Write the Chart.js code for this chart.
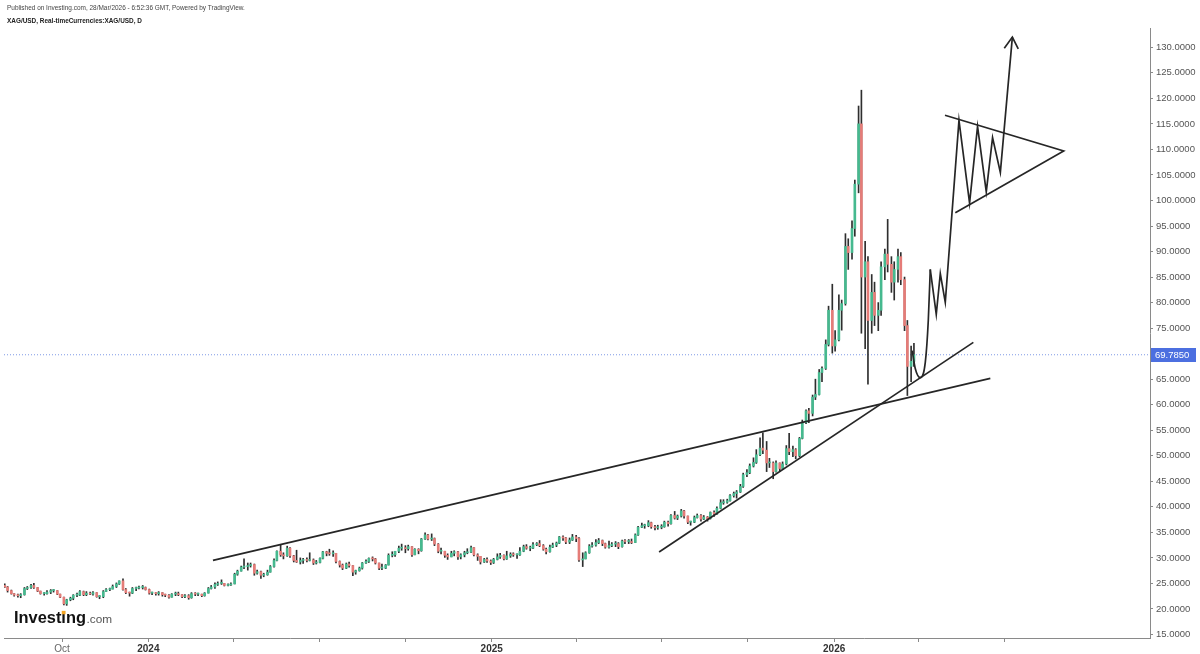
<!DOCTYPE html>
<html>
<head>
<meta charset="utf-8">
<title>XAG/USD</title>
<script src="https://cdn.jsdelivr.net/npm/chart.js@4.4.1/dist/chart.umd.min.js"></script>
<style>
html,body{margin:0;padding:0;background:#ffffff;overflow:hidden;}
canvas{display:block;}
</style>
</head>
<body>
<canvas id="chart" width="1200" height="654"></canvas>
<script>
// ---------------- data ----------------
// x values are calendar days counted from 1 Oct 2023 (day 0)
const firstWeekStart = -62;      // Monday 31 Jul 2023
const candleOffsets = [1, 4];    // two candles per week: Mon-Wed and Thu-Fri
const firstOpen = 24.6;

const closes = [
 24.3,23.6, 23.0,22.7, 22.6,22.8, 24.0,24.2, 24.6,24.2, 23.5,23.0, 23.0,23.3, 23.6,23.6,
 22.9,22.3, 21.0,21.8, 22.1,22.7, 22.7,23.4, 22.8,23.1, 22.9,23.2, 22.4,22.4, 23.4,23.8,
 23.9,24.4, 24.9,25.5, 23.8,23.2, 23.1,24.0, 24.1,24.2, 24.2,23.8, 23.1,23.1, 23.0,23.2,
 22.8,22.7, 22.3,22.9, 23.0,22.8, 22.4,22.6, 22.2,23.0, 22.9,22.9, 22.6,23.1, 24.0,24.3,
 24.8,25.0, 25.0,24.6, 24.7,24.9, 26.8,27.4, 28.2,28.3, 28.5,28.7, 27.0,27.3, 26.6,26.7,
 27.2,28.3, 29.5,31.3, 30.6,30.4, 31.9,30.4, 29.5,29.2, 29.5,29.6, 29.5,29.6, 29.0,29.1,
 29.9,31.2, 30.9,30.8, 30.9,29.3, 28.6,28.0, 28.8,28.5, 27.2,27.5, 28.0,29.0, 29.3,29.9,
 29.8,29.0, 28.0,28.0, 28.6,30.5, 30.6,31.3, 31.9,32.0, 31.8,32.2, 30.6,31.7, 31.4,33.7,
 34.5,33.7, 33.8,32.7, 31.3,31.3, 30.5,30.2, 30.9,31.2, 30.2,30.6, 31.0,31.1, 32.0,30.6,
 30.3,29.2, 29.7,29.4, 29.1,29.7, 30.2,30.5, 29.8,30.4, 30.7,30.6, 30.6,31.3, 32.2,31.9,
 31.9,32.6, 32.8,32.4, 31.7,31.2, 32.1,32.5, 32.9,34.1, 33.9,33.1, 33.5,34.1, 33.8,29.6,
 29.8,31.0, 32.3,32.5, 33.0,33.4, 32.8,32.1, 32.4,32.7, 32.8,32.2, 33.3,33.2, 33.2,33.0,
 34.5,36.0, 36.3,36.3, 36.9,36.1, 35.9,36.0, 36.1,37.0, 36.7,38.3, 37.8,38.2, 39.2,38.2,
 37.0,37.0, 37.9,38.3, 37.6,38.0, 37.7,38.9, 38.6,39.7, 40.8,40.9, 41.2,42.2, 42.6,42.9,
 44.0,46.3, 46.7,48.0, 48.7,50.2, 51.5,51.1, 48.6,48.6, 46.9,48.6, 47.5,48.4, 51.4,50.8,
 51.2,50.0, 53.4,56.5, 58.8,58.3, 61.5,62.0, 66.3,67.1, 71.8,78.5, 71.5,72.7, 78.5,79.8,
 91.0,89.8, 94.5,103.2, 115.0,85.0, 88.0,76.5, 82.0,77.5, 78.5,87.0, 89.5,87.5, 84.0,86.5,
 89.0,84.5, 75.5,67.5, 68.5,69.785
];
const highs = [
 24.9,24.4, 23.7,23.0, 22.9,23.0, 24.2,24.4, 24.8,25.0, 24.2,23.5, 23.2,23.6, 23.8,23.8,
 23.6,22.9, 22.3,21.9, 22.3,22.8, 23.1,23.6, 23.5,23.4, 23.3,23.4, 23.2,22.6, 23.6,24.0,
 24.1,24.7, 25.1,25.5, 25.9,24.0, 23.3,24.2, 24.3,24.5, 24.6,24.3, 23.9,23.3, 23.2,23.4,
 23.2,22.9, 22.8,23.0, 23.3,23.3, 22.8,22.8, 22.8,23.2, 23.2,23.1, 22.9,23.2, 24.2,24.6,
 25.1,25.3, 25.7,25.0, 24.9,25.1, 27.0,27.6, 28.4,29.8, 29.0,29.0, 28.8,27.6, 27.4,27.0,
 27.6,28.5, 29.8,31.4, 32.5,31.0, 32.3,32.0, 30.5,31.5, 30.0,29.9, 30.0,31.0, 29.8,29.5,
 30.0,31.3, 31.3,31.7, 31.4,30.9, 29.4,28.8, 29.0,29.2, 28.5,27.6, 28.2,29.1, 29.6,30.0,
 30.2,29.9, 29.0,28.8, 28.7,30.8, 31.2,31.3, 32.3,32.7, 32.4,32.5, 32.2,31.8, 31.8,33.8,
 34.9,34.6, 34.7,33.9, 32.8,31.9, 31.3,30.8, 31.3,31.4, 31.3,30.8, 31.3,31.8, 32.3,32.0,
 30.8,30.3, 29.9,30.0, 29.6,29.9, 30.8,30.9, 30.6,31.3, 31.0,31.0, 30.8,32.0, 32.5,32.6,
 32.3,33.0, 33.0,33.4, 32.6,31.9, 32.5,32.9, 33.1,34.2, 34.3,34.0, 33.9,34.6, 34.4,34.0,
 31.0,31.2, 32.6,33.0, 33.6,33.8, 33.5,32.9, 33.3,33.0, 33.2,33.0, 33.5,33.6, 33.6,33.7,
 34.7,36.2, 36.8,36.6, 37.3,37.0, 36.4,36.4, 36.5,37.2, 37.2,38.5, 39.1,38.4, 39.5,39.3,
 38.2,37.2, 38.2,38.6, 38.5,38.3, 38.1,39.0, 39.2,40.0, 41.4,41.4, 41.5,42.4, 42.9,43.2,
 44.4,46.6, 47.3,48.4, 49.6,51.2, 53.5,54.5, 52.8,49.5, 48.8,49.0, 48.6,48.8, 52.0,54.4,
 51.9,51.4, 53.6,57.0, 59.0,59.3, 61.9,65.0, 66.9,67.4, 72.7,79.3, 83.6,74.5, 81.5,80.5,
 93.5,92.5, 96.0,104.0, 118.5,121.6, 92.0,89.0, 85.5,84.0, 80.0,88.0, 90.5,96.3, 89.0,88.0,
 90.5,89.8, 85.0,76.5, 71.5,72.0
];
const lows = [
 24.2,23.3, 22.9,22.5, 22.3,22.2, 22.7,23.8, 24.0,24.0, 23.4,22.9, 22.7,22.9, 23.0,23.3,
 22.8,22.2, 20.8,20.7, 21.6,21.8, 22.4,22.6, 22.6,22.6, 22.8,22.7, 22.3,22.0, 22.2,23.4,
 23.6,23.9, 24.2,24.8, 23.7,23.0, 22.5,23.0, 23.6,23.9, 23.9,23.7, 22.9,22.8, 22.7,22.7,
 22.5,22.4, 22.1,22.3, 22.6,22.6, 22.2,22.2, 21.9,22.1, 22.6,22.6, 22.4,22.5, 23.1,23.9,
 24.0,24.6, 24.8,24.5, 24.5,24.6, 24.9,26.6, 27.4,27.9, 27.6,28.2, 26.6,26.8, 26.0,26.3,
 26.6,27.2, 28.2,29.4, 30.3,29.8, 30.3,30.1, 29.2,29.1, 28.8,28.9, 29.2,29.4, 28.7,28.8,
 29.0,29.8, 30.4,30.5, 30.3,29.0, 28.2,27.7, 27.9,28.2, 26.5,26.8, 27.4,27.8, 28.9,29.1,
 29.4,28.8, 27.7,27.7, 27.9,28.6, 30.2,30.3, 31.0,31.5, 31.0,31.5, 30.3,30.6, 30.8,31.3,
 33.6,33.5, 33.4,32.4, 31.0,30.8, 30.1,29.7, 30.2,30.4, 29.7,29.8, 30.2,30.8, 31.0,30.4,
 29.5,28.8, 29.1,29.1, 28.7,28.9, 29.6,29.9, 29.6,29.7, 30.1,30.3, 29.9,30.5, 31.2,31.7,
 31.4,31.8, 32.4,32.2, 31.5,30.8, 31.1,32.0, 32.2,32.8, 33.4,32.8, 32.8,33.4, 33.2,29.3,
 28.3,29.8, 30.9,32.1, 32.3,32.8, 32.4,31.9, 31.9,32.2, 32.2,31.8, 32.1,32.8, 32.8,32.8,
 33.0,34.4, 35.9,35.8, 36.1,35.8, 35.5,35.6, 35.7,36.0, 36.2,36.6, 37.6,37.5, 38.0,37.8,
 36.7,36.4, 36.9,37.8, 37.2,37.5, 37.2,37.6, 38.1,38.5, 39.6,40.5, 40.7,41.1, 41.9,41.7,
 42.8,43.8, 45.9,46.5, 47.8,48.5, 50.0,50.4, 46.9,47.7, 45.5,46.8, 46.9,47.3, 48.2,50.2,
 49.8,49.4, 49.8,53.3, 56.3,56.5, 57.8,61.0, 61.9,64.5, 66.9,71.5, 70.1,70.5, 72.5,74.6,
 79.5,86.5, 88.5,93.0, 101.5,74.0, 71.0,64.0, 74.0,75.5, 74.5,77.5, 84.5,86.0, 82.0,80.5,
 84.0,83.5, 74.5,61.8, 64.5,67.5
];

const xTickDays   = [0, 92, 183, 274, 366, 458, 548, 639, 731, 823, 913, 1004];
const xTickLabels = ['Oct', '2024', '', '', '', '2025', '', '', '', '2026', '', ''];
const yTickValues = [15,20,25,30,35,40,45,50,55,60,65,70,75,80,85,90,95,100,105,110,115,120,125,130];
const lastPrice = 69.785;

// hand-drawn annotations (data coordinates: day, price)
const resistanceLine = [{x:160.9,y:29.5},{x:989.4,y:65.16}];
const supportLine    = [{x:636.4,y:31.16},{x:971.3,y:72.21}];
const projectionCurve = [{x:906.2,y:70.6},{x:909.4,y:67.1},{x:914.8,y:65.3},{x:920.1,y:68.3},{x:923.3,y:76.5},{x:925.4,y:86.5}];
const projectionPath = [{x:925.4,y:86.5},{x:931.8,y:77.7},{x:936.1,y:85.7},{x:941.4,y:80.05},{x:956.0,y:115.7},
  {x:967.3,y:99.5},{x:975.8,y:114.5},{x:985.1,y:101.7},{x:991.8,y:112.3},{x:1000.1,y:105.5},{x:1012.9,y:132.0}];
const arrowHead = [{x:1004.3,y:129.8},{x:1012.9,y:132.0},{x:1019.2,y:129.7}];
const triangle  = [{x:941.1,y:116.7},{x:1067.6,y:109.7},{x:952.1,y:97.6}];

// ---------------- chart ----------------
const FONT = '"Liberation Sans", Arial, Helvetica, sans-serif';
Chart.defaults.font.family = FONT;
const UP = '#46b98f', DOWN = '#e57c78', WICK = '#2e2e2e', LINE = '#262626';

const candles = closes.map((c, k) => {
  const open = k === 0 ? firstOpen : closes[k - 1];
  const x = firstWeekStart + 7 * Math.floor(k / 2) + candleOffsets[k % 2];
  return {x, o: open, c, h: Math.max(highs[k], open, c), l: Math.min(lows[k], open, c)};
});

const X_MIN = -61.82, X_MAX = 1159.6, Y_MIN = 14.31, Y_MAX = 133.78;

function lineSet(data, extra) {
  return Object.assign({type: 'line', data, borderColor: LINE, borderWidth: 1.7, pointRadius: 0,
    tension: 0, fill: false, order: 1}, extra || {});
}

const overlay = {
  id: 'overlay',
  afterDraw(chart) {
    const ctx = chart.ctx;
    ctx.save();
    function fit(text, x, y, width, weight, color) {
      ctx.font = weight + ' 10px ' + FONT;
      const size = 10 * width / ctx.measureText(text).width;
      ctx.font = weight + ' ' + size.toFixed(2) + 'px ' + FONT;
      ctx.fillStyle = color;
      ctx.textBaseline = 'alphabetic';
      ctx.textAlign = 'left';
      ctx.fillText(text, x, y);
    }
    fit('Published on Investing.com, 28/Mar/2026 - 6:52:36 GMT, Powered by TradingView.', 7, 10, 238, '', '#444');
    fit('XAG/USD, Real-timeCurrencies:XAG/USD, D', 7, 22.5, 135, 'bold', '#222');

    // Investing.com logo
    const base = 623;
    ctx.font = 'bold 10px ' + FONT;
    const s = 10 * 72 / ctx.measureText('Investing').width;
    ctx.font = 'bold ' + s.toFixed(2) + 'px ' + FONT;
    ctx.fillStyle = '#111';
    let x = 14;
    ctx.fillText('Invest', x, base); x += ctx.measureText('Invest').width;
    const iw = ctx.measureText('\u0131').width;
    ctx.fillText('\u0131', x, base);
    ctx.fillStyle = '#f5a623';
    ctx.fillRect(x + iw / 2 - 1.9, base - s * 0.74, 3.8, 3.4);
    ctx.fillStyle = '#111';
    x += iw;
    ctx.fillText('ng', x, base); x += ctx.measureText('ng').width;
    ctx.font = (s * 0.72).toFixed(2) + 'px ' + FONT;
    ctx.fillStyle = '#555';
    ctx.fillText('.com', x + 0.5, base);

    // last price label
    const y = chart.scales.y.getPixelForValue(lastPrice);
    ctx.fillStyle = '#4c6fe0';
    ctx.fillRect(1151, Math.round(y) - 7, 45, 14);
    ctx.fillStyle = '#ffffff';
    ctx.font = '9.5px ' + FONT;
    ctx.textBaseline = 'middle';
    ctx.fillText(lastPrice.toFixed(4), 1155, Math.round(y) + 0.5);
    ctx.restore();
  }
};

new Chart(document.getElementById('chart'), {
  type: 'line',
  data: {
    datasets: [
      {type: 'line', data: [{x: X_MIN, y: lastPrice}, {x: X_MAX, y: lastPrice}], borderColor: '#7f9ae6',
        borderWidth: 1, borderDash: [1, 2], pointRadius: 0, order: 9},
      {type: 'bar', data: candles.map(k => ({x: k.x, y: [k.l, k.h]})), backgroundColor: WICK,
        grouped: false, maxBarThickness: 1, barPercentage: 1, categoryPercentage: 1, order: 8},
      {type: 'bar', data: candles.map(k => ({x: k.x, y: [k.o, k.c]})),
        backgroundColor: candles.map(k => k.c >= k.o ? UP : DOWN),
        grouped: false, maxBarThickness: 2, barPercentage: 1, categoryPercentage: 1, minBarLength: 1, order: 7},
      lineSet(resistanceLine),
      lineSet(supportLine),
      lineSet(projectionCurve, {tension: 0.4, cubicInterpolationMode: 'monotone'}),
      lineSet(projectionPath),
      lineSet(arrowHead),
      lineSet(triangle)
    ]
  },
  options: {
    responsive: false,
    animation: false,
    devicePixelRatio: 1,
    events: [],
    layout: {padding: {top: 28, left: 4, right: 0, bottom: 0}},
    plugins: {legend: {display: false}, tooltip: {enabled: false}},
    scales: {
      x: {
        type: 'linear', min: X_MIN, max: X_MAX, offset: false,
        afterBuildTicks: sc => { sc.ticks = xTickDays.map(v => ({value: v})); },
        afterFit: sc => { sc.height = 16; },
        grid: {display: true, drawOnChartArea: false, drawTicks: true, tickLength: 4, color: '#8a8a8a', offset: false},
        border: {display: true, color: '#8a8a8a', width: 1},
        ticks: {
          autoSkip: false, maxRotation: 0, padding: 1,
          callback: (v, i) => xTickLabels[i],
          font: c => ({size: 10, weight: /^\d/.test(xTickLabels[c.index] || '') ? 'bold' : 'normal', family: FONT}),
          color: c => /^\d/.test(xTickLabels[c.index] || '') ? '#333' : '#666'
        }
      },
      y: {
        type: 'linear', position: 'right', min: Y_MIN, max: Y_MAX,
        afterBuildTicks: sc => { sc.ticks = yTickValues.map(v => ({value: v})); },
        afterFit: sc => { sc.width = 50; },
        grid: {display: true, drawOnChartArea: false, drawTicks: true, tickLength: 3, color: '#8a8a8a'},
        border: {display: true, color: '#8a8a8a', width: 1},
        ticks: {padding: 3, color: '#555', font: {size: 9.5, family: FONT}, callback: v => Number(v).toFixed(4)}
      }
    }
  },
  plugins: [overlay]
});
</script>
</body>
</html>
